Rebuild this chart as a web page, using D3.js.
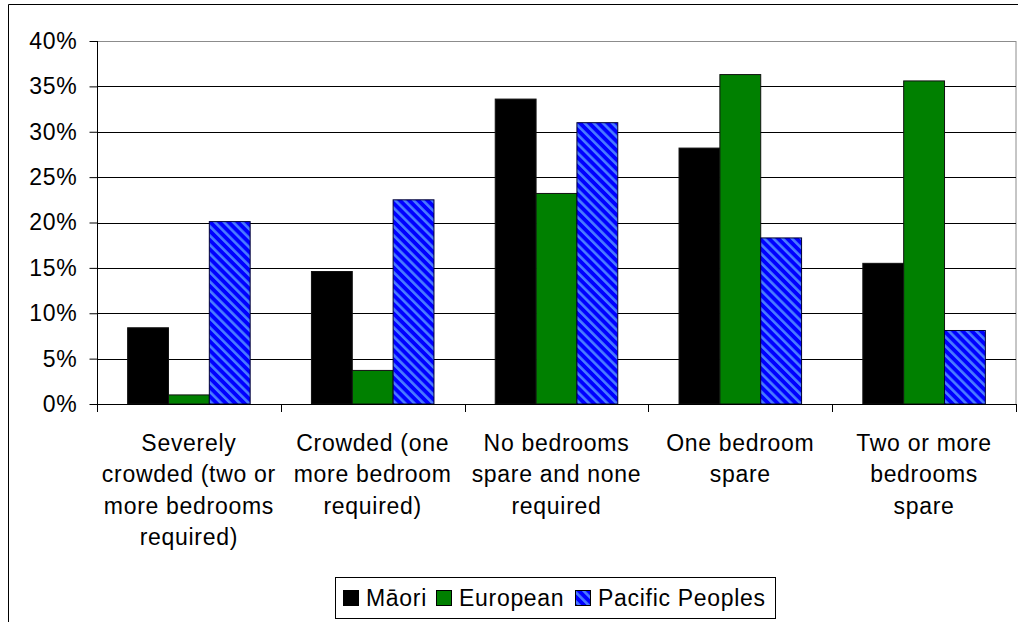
<!DOCTYPE html>
<html>
<head>
<meta charset="utf-8">
<script src="https://cdn.jsdelivr.net/npm/d3@7"></script>
<style>
  html, body { margin: 0; padding: 0; background: #fff; }
  svg { display: block; font-family: "Liberation Sans", Arial, sans-serif; }
  svg text { letter-spacing: 0.7px; }
</style>
</head>
<body>
<svg id="chart" width="1018" height="622"></svg>
<script>
const categories = [
  ["Severely", "crowded (two or", "more bedrooms", "required)"],
  ["Crowded (one", "more bedroom", "required)"],
  ["No bedrooms", "spare and none", "required"],
  ["One bedroom", "spare"],
  ["Two or more", "bedrooms", "spare"]
];
const seriesNames = ["Māori", "European", "Pacific Peoples"];
const maori    = [8.4, 14.6, 33.6, 28.2, 15.5];
const european = [1.0, 3.7, 23.2, 36.3, 35.6];
const pacific  = [20.1, 22.5, 31.0, 18.3, 8.1];
const yTicks = [0, 5, 10, 15, 20, 25, 30, 35, 40];

(function () {
const series = [maori, european, pacific];
const fills = ["#000000", "#008000", "url(#stripes)"];
const FS = 23;

const svg = d3.select("#chart");
const defs = svg.append("defs");
const pat = defs.append("pattern")
  .attr("id", "stripes")
  .attr("patternUnits", "userSpaceOnUse")
  .attr("width", 6.5).attr("height", 6.5)
  .attr("patternTransform", "rotate(-45)");
pat.append("rect").attr("width", 6.5).attr("height", 6.5).attr("fill", "#0000ff");
pat.append("rect").attr("x", 0).attr("width", 2.6).attr("height", 6.5).attr("fill", "#4a7cff");

// outer frame (top & left visible)
svg.append("path").attr("d", "M8.5,622 L8.5,4.5 L1018,4.5")
  .attr("fill", "none").attr("stroke", "#000").attr("stroke-width", 1);

const pLeft = 97, pRight = 1016, pTop = 41, pBottom = 404;

const x0 = d3.scaleBand().domain(d3.range(categories.length)).range([pLeft, pRight]).paddingInner(0).paddingOuter(0);
const y = d3.scaleLinear().domain([0, 40]).range([pBottom, pTop]);

// plot area border
svg.append("rect").attr("x", pLeft + 0.5).attr("y", pTop + 0.5)
  .attr("width", pRight - pLeft - 0.5).attr("height", pBottom - pTop)
  .attr("fill", "none").attr("stroke", "#8c8c8c");

// gridlines
svg.append("g").selectAll("line").data(yTicks.filter(d => d > 0)).join("line")
  .attr("x1", pLeft).attr("x2", pRight)
  .attr("y1", d => Math.round(y(d)) + 0.5).attr("y2", d => Math.round(y(d)) + 0.5)
  .attr("stroke", d => d === 40 ? "#8c8c8c" : "#000").attr("stroke-width", 1);

// bars
const groupW = x0.bandwidth();
const barW = groupW / 4.5;
const x1 = d3.scaleBand().domain(d3.range(3)).range([0, barW * 3]);
const g = svg.append("g");
series.forEach((vals, si) => {
  g.selectAll(null).data(vals).join("rect")
    .attr("x", (d, i) => x0(i) + barW * 0.75 + x1(si))
    .attr("y", d => y(d))
    .attr("width", x1.bandwidth())
    .attr("height", d => pBottom - y(d))
    .attr("fill", fills[si])
    .attr("stroke", si === 2 ? "#000033" : "#111")
    .attr("stroke-width", 1);
});

// y axis
const yAxis = d3.axisLeft(y).tickValues(yTicks).tickSize(8).tickPadding(12)
  .tickFormat(d => d + "%");
const ya = svg.append("g").attr("transform", `translate(${pLeft + 0.5},0)`).call(yAxis);
ya.select(".domain").attr("stroke", "#000").attr("d", `M0,${pTop}V${pBottom}`);
ya.selectAll(".tick line").attr("stroke", "#000");
ya.selectAll(".tick text").attr("font-size", FS).attr("fill", "#000")
  .attr("font-family", "Liberation Sans, Arial, sans-serif");

// x axis
svg.append("line").attr("x1", pLeft).attr("x2", pRight)
  .attr("y1", pBottom + 0.5).attr("y2", pBottom + 0.5).attr("stroke", "#000");
const bounds = d3.range(categories.length + 1).map(i => i < categories.length ? x0(i) : pRight);
svg.append("g").selectAll("line").data(bounds).join("line")
  .attr("x1", d => Math.round(d) + 0.5).attr("x2", d => Math.round(d) + 0.5)
  .attr("y1", pBottom).attr("y2", pBottom + 8).attr("stroke", "#000");

const labels = svg.append("g").attr("font-size", FS).attr("text-anchor", "middle").attr("fill", "#000");
categories.forEach((lines, i) => {
  const cx = x0(i) + groupW / 2;
  const t = labels.append("text").attr("x", cx).attr("y", 451);
  lines.forEach((ln, j) => {
    t.append("tspan").attr("x", cx).attr("dy", j === 0 ? 0 : 31.3).text(ln);
  });
});

// legend
const lg = svg.append("g");
lg.append("rect").attr("x", 335.5).attr("y", 577.5).attr("width", 440).attr("height", 41)
  .attr("fill", "#fff").attr("stroke", "#000");
const legendItems = [
  { name: seriesNames[0], fill: fills[0], sx: 343, tx: 366 },
  { name: seriesNames[1], fill: fills[1], sx: 436, tx: 459 },
  { name: seriesNames[2], fill: fills[2], sx: 575, tx: 598 }
];
legendItems.forEach(it => {
  lg.append("rect").attr("x", it.sx + 0.5).attr("y", 590.5).attr("width", 15).attr("height", 15)
    .attr("fill", it.fill).attr("stroke", "#000");
  lg.append("text").attr("x", it.tx).attr("y", 606).attr("font-size", FS).attr("fill", "#000").text(it.name);
});
})();
</script>
</body>
</html>
